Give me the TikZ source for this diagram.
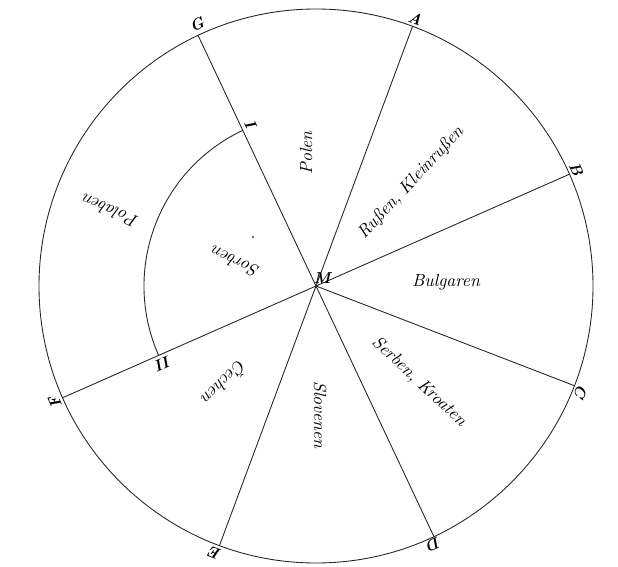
\documentclass[tikz,border=0pt]{standalone}
\usepackage{fontspec}
\begin{document}
\begin{tikzpicture}[line width=0.5pt, draw=black!85,
  folk/.style={font=\itshape},
  ptlabel/.style={font=\small\bfseries\itshape, inner sep=1pt}]

\useasboundingbox (-6.32,-5.6) rectangle (6.04,5.72);

\coordinate (M) at (0,0);
\coordinate (A) at (69.6:5.54);
\coordinate (B) at (23.8:5.54);
\coordinate (C) at (-21.1:5.54);
\coordinate (D) at (-64.8:5.54);
\coordinate (E) at (249.6:5.54);
\coordinate (F) at (203.8:5.54);
\coordinate (G) at (115.2:5.54);
\coordinate (I) at (115.2:3.44);
\coordinate (II) at (203.8:3.44);

\begin{scope}[black!85]
\draw (M) circle (5.54);
\draw (G) -- (D);
\draw (A) -- (E);
\draw (B) -- (F);
\draw (M) -- (C);
\draw (I) arc[start angle=115.2, end angle=203.8, radius=3.44];
\end{scope}

\node[ptlabel, rotate=-20.4] (lA) at (69.6:5.7) {A};
\node[ptlabel, rotate=-66.2] (lB) at (24.1:5.7) {B};
\node[ptlabel, rotate=-111.1] (lC) at (-21.7:5.7) {C};
\node[ptlabel, rotate=-155.2] (lD) at (-65.5:5.68) {D};
\node[ptlabel, rotate=159.6] (lE) at (249.3:5.71) {E};
\node[ptlabel, rotate=113.8] (lF) at (204:5.71) {F};
\node[ptlabel, rotate=25.2] (lG) at (114.5:5.74) {G};
\node[ptlabel] (lM) at (0.12,0.15) {M};
\node[ptlabel, rotate=115] (lI) at (112:3.45) {I};
\node[ptlabel, rotate=204] (lII) at (207:3.42) {II};

\node[folk, rotate=90] (polen) at (-0.2,2.66) {\addfontfeature{LetterSpace=25}Polen};
\node[folk, rotate=47] (russen) at (1.9,2.06) {Rußen, Kleinrußen};
\node[folk] (bulgaren) at (2.6,0.08) {Bulgaren};
\node[folk, rotate=-43] (serben) at (2.06,-1.92) {Serben, Kroaten};
\node[folk, rotate=-90] (slovenen) at (0.08,-2.58) {\addfontfeature{LetterSpace=10}Slovenen};
\node[folk, rotate=225] (cechen) at (-1.82,-1.94) {Čechen};
\node[folk, rotate=155] (sorben) at (-1.62,0.48) {Sorben};
\node[folk, rotate=157] (polaben) at (-4.12,1.5) {Polaben};

\fill[black!80] (-1.26,0.98) circle (0.7pt);

\end{tikzpicture}
\end{document}
